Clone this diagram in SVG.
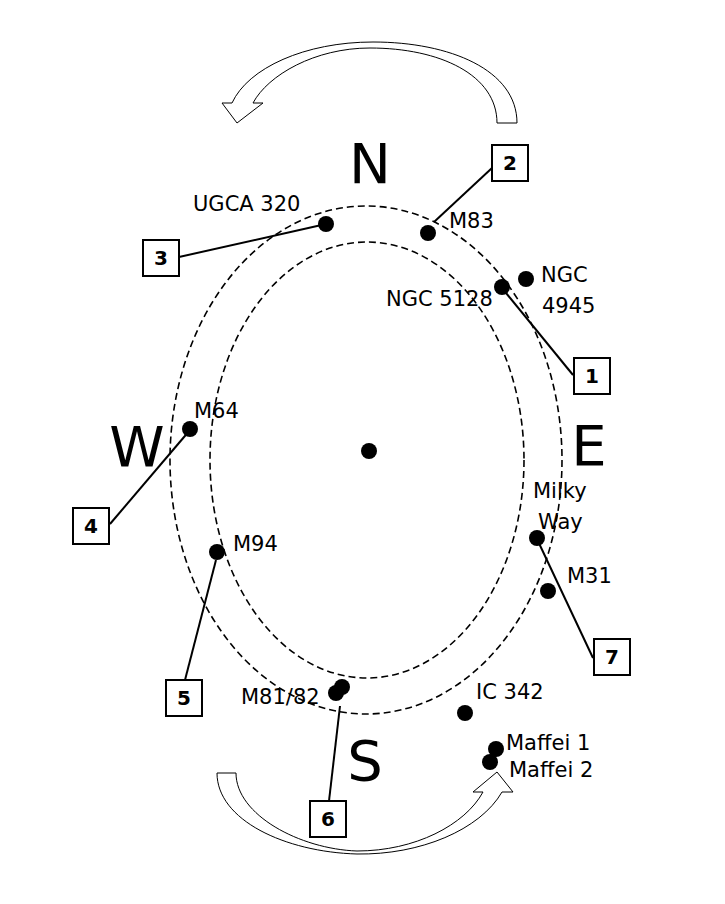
<svg xmlns="http://www.w3.org/2000/svg" width="725" height="904" viewBox="0 0 725 904">
<style>
.orbit{fill:none;stroke:#000;stroke-width:1.6;stroke-dasharray:7,4}
.dot{fill:#000}
.lbl{font-family:"DejaVu Sans","Verdana",sans-serif;font-size:21px;fill:#000}
.dir{font-family:"DejaVu Sans","Verdana",sans-serif;font-size:56px;fill:#000;text-anchor:middle}
.box{fill:#fff;stroke:#000;stroke-width:2}
.num{font-family:"DejaVu Sans","Verdana",sans-serif;font-size:20px;font-weight:bold;fill:#000;text-anchor:middle}
.lead{stroke:#000;stroke-width:2;fill:none}
.arrow{fill:#fff;stroke:#000;stroke-width:1}
</style>
<rect width="725" height="904" fill="#fff"/>

<g id="orbits">
<ellipse class="orbit" cx="366" cy="460" rx="196" ry="254"/>
<ellipse class="orbit" cx="367" cy="460" rx="157" ry="218"/>
</g>

<g id="rotation-arrows">
<path class="arrow" d="M517,123 C517,70 450,42 373,42 C305,42 248,68 232,103 L222,103 L237,123 L263,103 L253,103 C268,75 315,48 370,48 C440,48 497,75 497,123 Z"/>
<path class="arrow" d="M217,773 C217,820 285,852 357,854 C420,855 480,830 502,792 L513,792 L497,772 L473,792 L483,792 C465,825 415,851 357,851 C300,849 236,815 236,773 Z"/>
</g>

<g id="directions">
<text class="dir" x="370" y="183">N</text>
<text class="dir" x="137" y="466">W</text>
<text class="dir" x="589" y="465">E</text>
<text class="dir" x="365" y="780">S</text>
</g>

<g id="connectors">
<line class="lead" x1="492" y1="168" x2="434" y2="222"/>
<line class="lead" x1="179" y1="257" x2="326" y2="224"/>
<line class="lead" x1="573" y1="375" x2="502" y2="288"/>
<line class="lead" x1="110" y1="524" x2="190" y2="430"/>
<line class="lead" x1="185" y1="680" x2="216" y2="560"/>
<line class="lead" x1="329" y1="801" x2="340" y2="706"/>
<line class="lead" x1="593" y1="658" x2="537" y2="539"/>
</g>

<g id="center"><circle class="dot" cx="369" cy="451" r="8"/></g>

<g id="ugca320"><circle class="dot" cx="326" cy="224" r="8"/><text class="lbl" x="193" y="211">UGCA 320</text></g>
<g id="m83"><circle class="dot" cx="428" cy="233" r="8"/><text class="lbl" x="449" y="228">M83</text></g>
<g id="ngc5128"><circle class="dot" cx="502" cy="287" r="8"/><text class="lbl" x="386" y="306">NGC 5128</text></g>
<g id="ngc4945"><circle class="dot" cx="526" cy="279" r="8"/><text class="lbl" x="541" y="282">NGC</text><text class="lbl" x="542" y="313">4945</text></g>
<g id="m64"><circle class="dot" cx="190" cy="429" r="8"/><text class="lbl" x="194" y="418">M64</text></g>
<g id="m94"><circle class="dot" cx="217" cy="552" r="8"/><text class="lbl" x="233" y="551">M94</text></g>
<g id="milkyway"><circle class="dot" cx="537" cy="538" r="8"/><text class="lbl" x="533" y="498">Milky</text><text class="lbl" x="538" y="529">Way</text></g>
<g id="m31"><circle class="dot" cx="548" cy="591" r="8"/><text class="lbl" x="567" y="583">M31</text></g>
<g id="m81m82"><circle class="dot" cx="342" cy="687" r="8"/><circle class="dot" cx="336" cy="693" r="8"/><text class="lbl" x="241" y="704">M81/82</text></g>
<g id="ic342"><circle class="dot" cx="465" cy="713" r="8"/><text class="lbl" x="476" y="699">IC 342</text></g>
<g id="maffei1"><circle class="dot" cx="496" cy="749" r="8"/><text class="lbl" x="506" y="750">Maffei 1</text></g>
<g id="maffei2"><circle class="dot" cx="490" cy="762" r="8"/><text class="lbl" x="509" y="777">Maffei 2</text></g>

<g id="box1"><rect class="box" x="574" y="358" width="36" height="36"/><text class="num" x="592" y="383">1</text></g>
<g id="box2"><rect class="box" x="492" y="145" width="36" height="36"/><text class="num" x="510" y="170">2</text></g>
<g id="box3"><rect class="box" x="143" y="240" width="36" height="36"/><text class="num" x="161" y="265">3</text></g>
<g id="box4"><rect class="box" x="73" y="508" width="36" height="36"/><text class="num" x="91" y="533">4</text></g>
<g id="box5"><rect class="box" x="166" y="680" width="36" height="36"/><text class="num" x="184" y="705">5</text></g>
<g id="box6"><rect class="box" x="310" y="801" width="36" height="36"/><text class="num" x="328" y="826">6</text></g>
<g id="box7"><rect class="box" x="594" y="639" width="36" height="36"/><text class="num" x="612" y="664">7</text></g>
</svg>
